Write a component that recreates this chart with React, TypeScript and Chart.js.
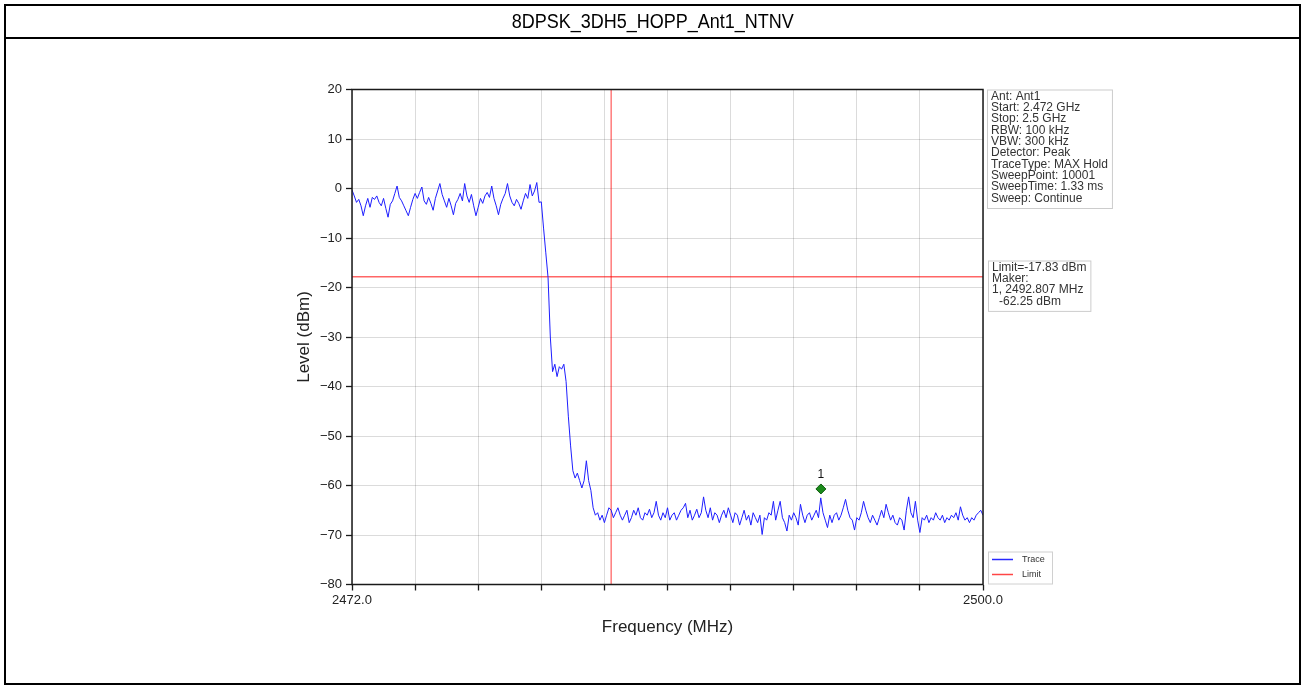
import React, { useEffect, useRef } from 'react';
import { Chart, registerables } from 'chart.js';

Chart.register(...registerables);

const TITLE = '8DPSK_3DH5_HOPP_Ant1_NTNV';
const START_MHZ = 2472;
const STOP_MHZ = 2500;
const STEP_MHZ = 0.1;

// Trace levels (dBm), one value per 0.1 MHz from 2472.0 to 2500.0
const traceLevels: number[] = [
  // 2472.0 - 2480.4 in-band
  -0.3, -1.5, -2.8, -2.2, -3.5, -5.5, -3.5, -2.0, -3.8, -1.8,
  -2.2, -1.5, -2.8, -3.5, -2.0, -4.0, -5.8, -3.2, -2.5, -1.0,
  0.5, -1.8, -2.5, -3.5, -4.5, -5.5, -3.8, -2.2, -1.0, -2.0,
  -0.8, 0.3, -2.5, -3.2, -1.8, -3.0, -4.4, -2.0, -0.5, 1.0,
  -1.2, -2.5, -3.8, -2.0, -3.5, -5.3, -3.0, -2.2, -1.0, -2.5,
  1.0, -1.5, -2.8, -1.2, -3.5, -5.5, -3.8, -2.0, -3.0, -1.5,
  -0.8, -1.8, 0.5, -2.0, -3.5, -5.3, -3.2, -2.0, -1.0, 1.0,
  -1.5, -2.8, -3.5, -2.2, -3.0, -4.2, -2.5, -1.0, -2.0, 0.8,
  -1.5, -0.5, 1.2, -2.8, -2.7,
  // 2480.5 - 2483.4 roll-off
  -8, -13, -18, -30, -37, -35.5, -38, -36, -36.5, -35.5,
  -39, -46, -52, -57, -58.5, -57.5, -59, -60.5, -59, -55,
  -59, -61, -64.5, -66, -65.5, -67, -66, -67.5, -66, -64.5,
  // 2483.5 - 2500.0 out of band
  -65, -66.5, -65.5, -64.5, -66, -67, -66, -65, -67.5, -66.5,
  -65, -66, -64.5, -66.5, -67, -65.5, -66, -64.8, -66.5, -65.5,
  -63.2, -66, -67, -65.5, -66.5, -64.5, -67, -66, -65.5, -67,
  -66, -65, -64.5, -63.6, -66.5, -65, -67, -66, -64.8, -66.5,
  -65.5, -62.3, -65, -66.5, -64.5, -67, -65.5, -66, -67.5, -66,
  -65, -66.5, -64.5, -66, -67.5, -65.5, -66, -68, -66.5, -65,
  -67, -66, -68, -65.5, -66.5, -67.5, -66, -69.9, -66.5, -67,
  -65.5, -66, -63.2, -67, -65, -63.2, -66.5, -67.5, -69.2, -66,
  -67, -65.5, -66.5, -68, -63.8, -66, -67.5, -66, -65.5, -67,
  -66, -65, -66.5, -62.5, -65.5, -67, -68.5, -66, -67.5, -66,
  -65.5, -67, -66, -64.5, -62.8, -65, -66.5, -67, -69, -66.5,
  -67, -65.5, -63.2, -65, -66.5, -67.5, -66, -67, -68, -66.5,
  -65, -66.5, -63.8, -65.5, -67, -66, -67.5, -68, -66.5, -67,
  -69, -65, -62.3, -65.5, -66.5, -63.2, -67, -69.5, -66.5, -67,
  -66, -67.5, -66.5, -67, -65.5, -66.5, -67, -66, -67.5, -66.5,
  -67, -66, -66.5, -65.5, -67, -64.3, -66, -67, -66.5, -67.5,
  -66.5, -67, -66, -65.5, -65, -66,
];

const LIMIT_DBM = -17.83;
const BAND_EDGE_MHZ = 2483.5;
const MARKER_MHZ = 2492.807;
const MARKER_DBM = -60.7;
const MARKER_LABEL = '1';

const Y_MIN = -80;
const Y_MAX = 20;
const Y_STEP = 10;
const xTickValues = [2472, 2474.8, 2477.6, 2480.4, 2483.2, 2486, 2488.8, 2491.6, 2494.4, 2497.2, 2500];
const xLabeledTicks = [2472, 2500];

const infoLines = [
  'Ant: Ant1',
  'Start: 2.472 GHz',
  'Stop: 2.5 GHz',
  'RBW: 100 kHz',
  'VBW: 300 kHz',
  'Detector: Peak',
  'TraceType: MAX Hold',
  'SweepPoint: 10001',
  'SweepTime: 1.33 ms',
  'Sweep: Continue',
];
const limitInfoLines = ['Limit=-17.83 dBm', 'Maker:', '1, 2492.807 MHz', '-62.25 dBm'];
const legendItems = [
  { label: 'Trace', color: 'rgb(40,40,255)' },
  { label: 'Limit', color: 'rgb(255,70,70)' },
];

const FONT = '"Liberation Sans", Arial, Helvetica, sans-serif';
const TRACE_COLOR = 'rgb(30,30,255)';
const LIMIT_COLOR = 'rgba(255,0,0,0.6)';

const overlayPlugin = {
  id: 'overlay',
  afterDraw(chart: any) {
    const { ctx, chartArea } = chart;
    const { left, right, top, bottom } = chartArea;
    ctx.save();
    // frame
    ctx.strokeStyle = '#1a1a1a';
    ctx.lineWidth = 1.5;
    ctx.strokeRect(left, top, right - left, bottom - top);

    // marker label
    const xs = chart.scales.x;
    const ys = chart.scales.y;
    ctx.fillStyle = '#111';
    ctx.font = `12px ${FONT}`;
    ctx.textAlign = 'center';
    ctx.textBaseline = 'middle';
    ctx.fillText(MARKER_LABEL, xs.getPixelForValue(MARKER_MHZ), ys.getPixelForValue(MARKER_DBM) - 14);

    // info boxes
    const lh = 11.35;
    const drawBox = (lines: string[], bx: number, by: number, indents: number[]) => {
      ctx.font = `12px ${FONT}`;
      let w = 0;
      lines.forEach((l, i) => { w = Math.max(w, ctx.measureText(l).width + (indents[i] || 0)); });
      const h = lines.length * lh + 5;
      ctx.fillStyle = 'rgba(255,255,255,0.9)';
      ctx.fillRect(bx, by, w + 8, h);
      ctx.strokeStyle = '#cccccc';
      ctx.lineWidth = 1;
      ctx.strokeRect(bx + 0.5, by + 0.5, w + 8, h);
      ctx.fillStyle = '#333';
      ctx.textAlign = 'left';
      ctx.textBaseline = 'alphabetic';
      lines.forEach((l, i) => {
        ctx.fillText(l, bx + 4 + (indents[i] || 0), by + 10 + i * lh);
      });
    };
    drawBox(infoLines, right + 4, top, []);
    drawBox(limitInfoLines, right + 5, top + 171, [0, 0, 0, 7]);

    // legend
    const lx = right + 5;
    const ly = bottom - 33;
    ctx.fillStyle = '#fff';
    ctx.fillRect(lx, ly, 64, 32);
    ctx.strokeStyle = '#d0d0d0';
    ctx.lineWidth = 1;
    ctx.strokeRect(lx + 0.5, ly + 0.5, 64, 32);
    ctx.font = `9px ${FONT}`;
    ctx.textBaseline = 'middle';
    ctx.textAlign = 'left';
    legendItems.forEach((it, i) => {
      const yy = ly + 8 + i * 15;
      ctx.strokeStyle = it.color;
      ctx.lineWidth = 1.5;
      ctx.beginPath();
      ctx.moveTo(lx + 4, yy);
      ctx.lineTo(lx + 25, yy);
      ctx.stroke();
      ctx.fillStyle = '#333';
      ctx.fillText(it.label, lx + 34, yy);
    });
    ctx.restore();
  },
};

export default function App() {
  const canvasRef = useRef<HTMLCanvasElement | null>(null);

  useEffect(() => {
    const canvas = canvasRef.current;
    if (!canvas) return;
    const chart = new Chart(canvas, {
      type: 'line',
      data: {
        datasets: [
          {
            label: 'Trace',
            data: traceLevels.map((y, i) => ({ x: START_MHZ + i * STEP_MHZ, y })),
            borderColor: TRACE_COLOR,
            borderWidth: 1,
            pointRadius: 0,
            tension: 0,
          },
          {
            label: 'Limit',
            data: [{ x: START_MHZ, y: LIMIT_DBM }, { x: STOP_MHZ, y: LIMIT_DBM }],
            borderColor: LIMIT_COLOR,
            borderWidth: 1.3,
            pointRadius: 0,
          },
          {
            label: 'Band edge',
            data: [{ x: BAND_EDGE_MHZ, y: Y_MIN }, { x: BAND_EDGE_MHZ, y: Y_MAX }],
            borderColor: LIMIT_COLOR,
            borderWidth: 1.3,
            pointRadius: 0,
          },
          {
            label: 'Marker',
            data: [{ x: MARKER_MHZ, y: MARKER_DBM }],
            showLine: false,
            pointStyle: 'rectRot',
            pointRadius: 5,
            backgroundColor: '#1b8a1b',
            borderColor: '#0d5d0d',
            borderWidth: 1,
          },
        ],
      },
      options: {
        animation: false,
        responsive: false,
        events: [],
        layout: { padding: { left: 290, right: 323, top: 89.5, bottom: 44.5 } },
        plugins: {
          legend: { display: false },
          tooltip: { enabled: false },
        },
        scales: {
          x: {
            type: 'linear',
            min: START_MHZ,
            max: STOP_MHZ,
            afterBuildTicks: (s: any) => {
              s.ticks = xTickValues.map((v) => ({ value: v }));
            },
            afterFit: (s: any) => {
              s.height = 57;
            },
            ticks: {
              autoSkip: false,
              maxRotation: 0,
              padding: 2,
              color: '#222',
              font: { family: FONT, size: 13 },
              callback: (v: any) => (xLabeledTicks.includes(Number(v)) ? Number(v).toFixed(1) : ''),
            },
            grid: { color: 'rgba(0,0,0,0.14)', lineWidth: 1, tickColor: '#1a1a1a', tickLength: 6, tickWidth: 1.3 },
            border: { display: false },
            title: { display: true, text: 'Frequency (MHz)', color: '#222', font: { family: FONT, size: 17 } },
          },
          y: {
            type: 'linear',
            min: Y_MIN,
            max: Y_MAX,
            afterFit: (s: any) => {
              s.width = 62;
            },
            ticks: {
              stepSize: Y_STEP,
              padding: 4,
              color: '#222',
              font: { family: FONT, size: 13 },
              callback: (v: any) => String(v).replace('-', '\u2212'),
            },
            grid: { color: 'rgba(0,0,0,0.14)', lineWidth: 1, tickColor: '#1a1a1a', tickLength: 6, tickWidth: 1.3 },
            border: { display: false },
            title: { display: true, text: 'Level (dBm)', color: '#222', font: { family: FONT, size: 17 } },
          },
        },
      },
      plugins: [overlayPlugin],
    } as any);
    return () => chart.destroy();
  }, []);

  return (
    <div style={{ position: 'fixed', left: 0, top: 0, width: 1306, height: 686, background: '#fff', overflow: 'hidden' }}>
      <canvas ref={canvasRef} width={1306} height={686} style={{ position: 'absolute', left: 0, top: 0, width: 1306, height: 686 }} />
      <div style={{ position: 'absolute', left: 4, top: 4, width: 1297, height: 681, border: '2px solid #000', boxSizing: 'border-box' }} />
      <div style={{ position: 'absolute', left: 4, top: 37, width: 1297, height: 2, background: '#000' }} />
      <div
        style={{
          position: 'absolute',
          left: 4,
          top: 6,
          width: 1297,
          height: 31,
          lineHeight: '31px',
          textAlign: 'center',
          fontFamily: FONT,
          fontSize: 20,
          color: '#000',
        }}
      >
        <span style={{ display: 'inline-block', transform: 'scaleX(0.9)' }}>{TITLE}</span>
      </div>
    </div>
  );
}
